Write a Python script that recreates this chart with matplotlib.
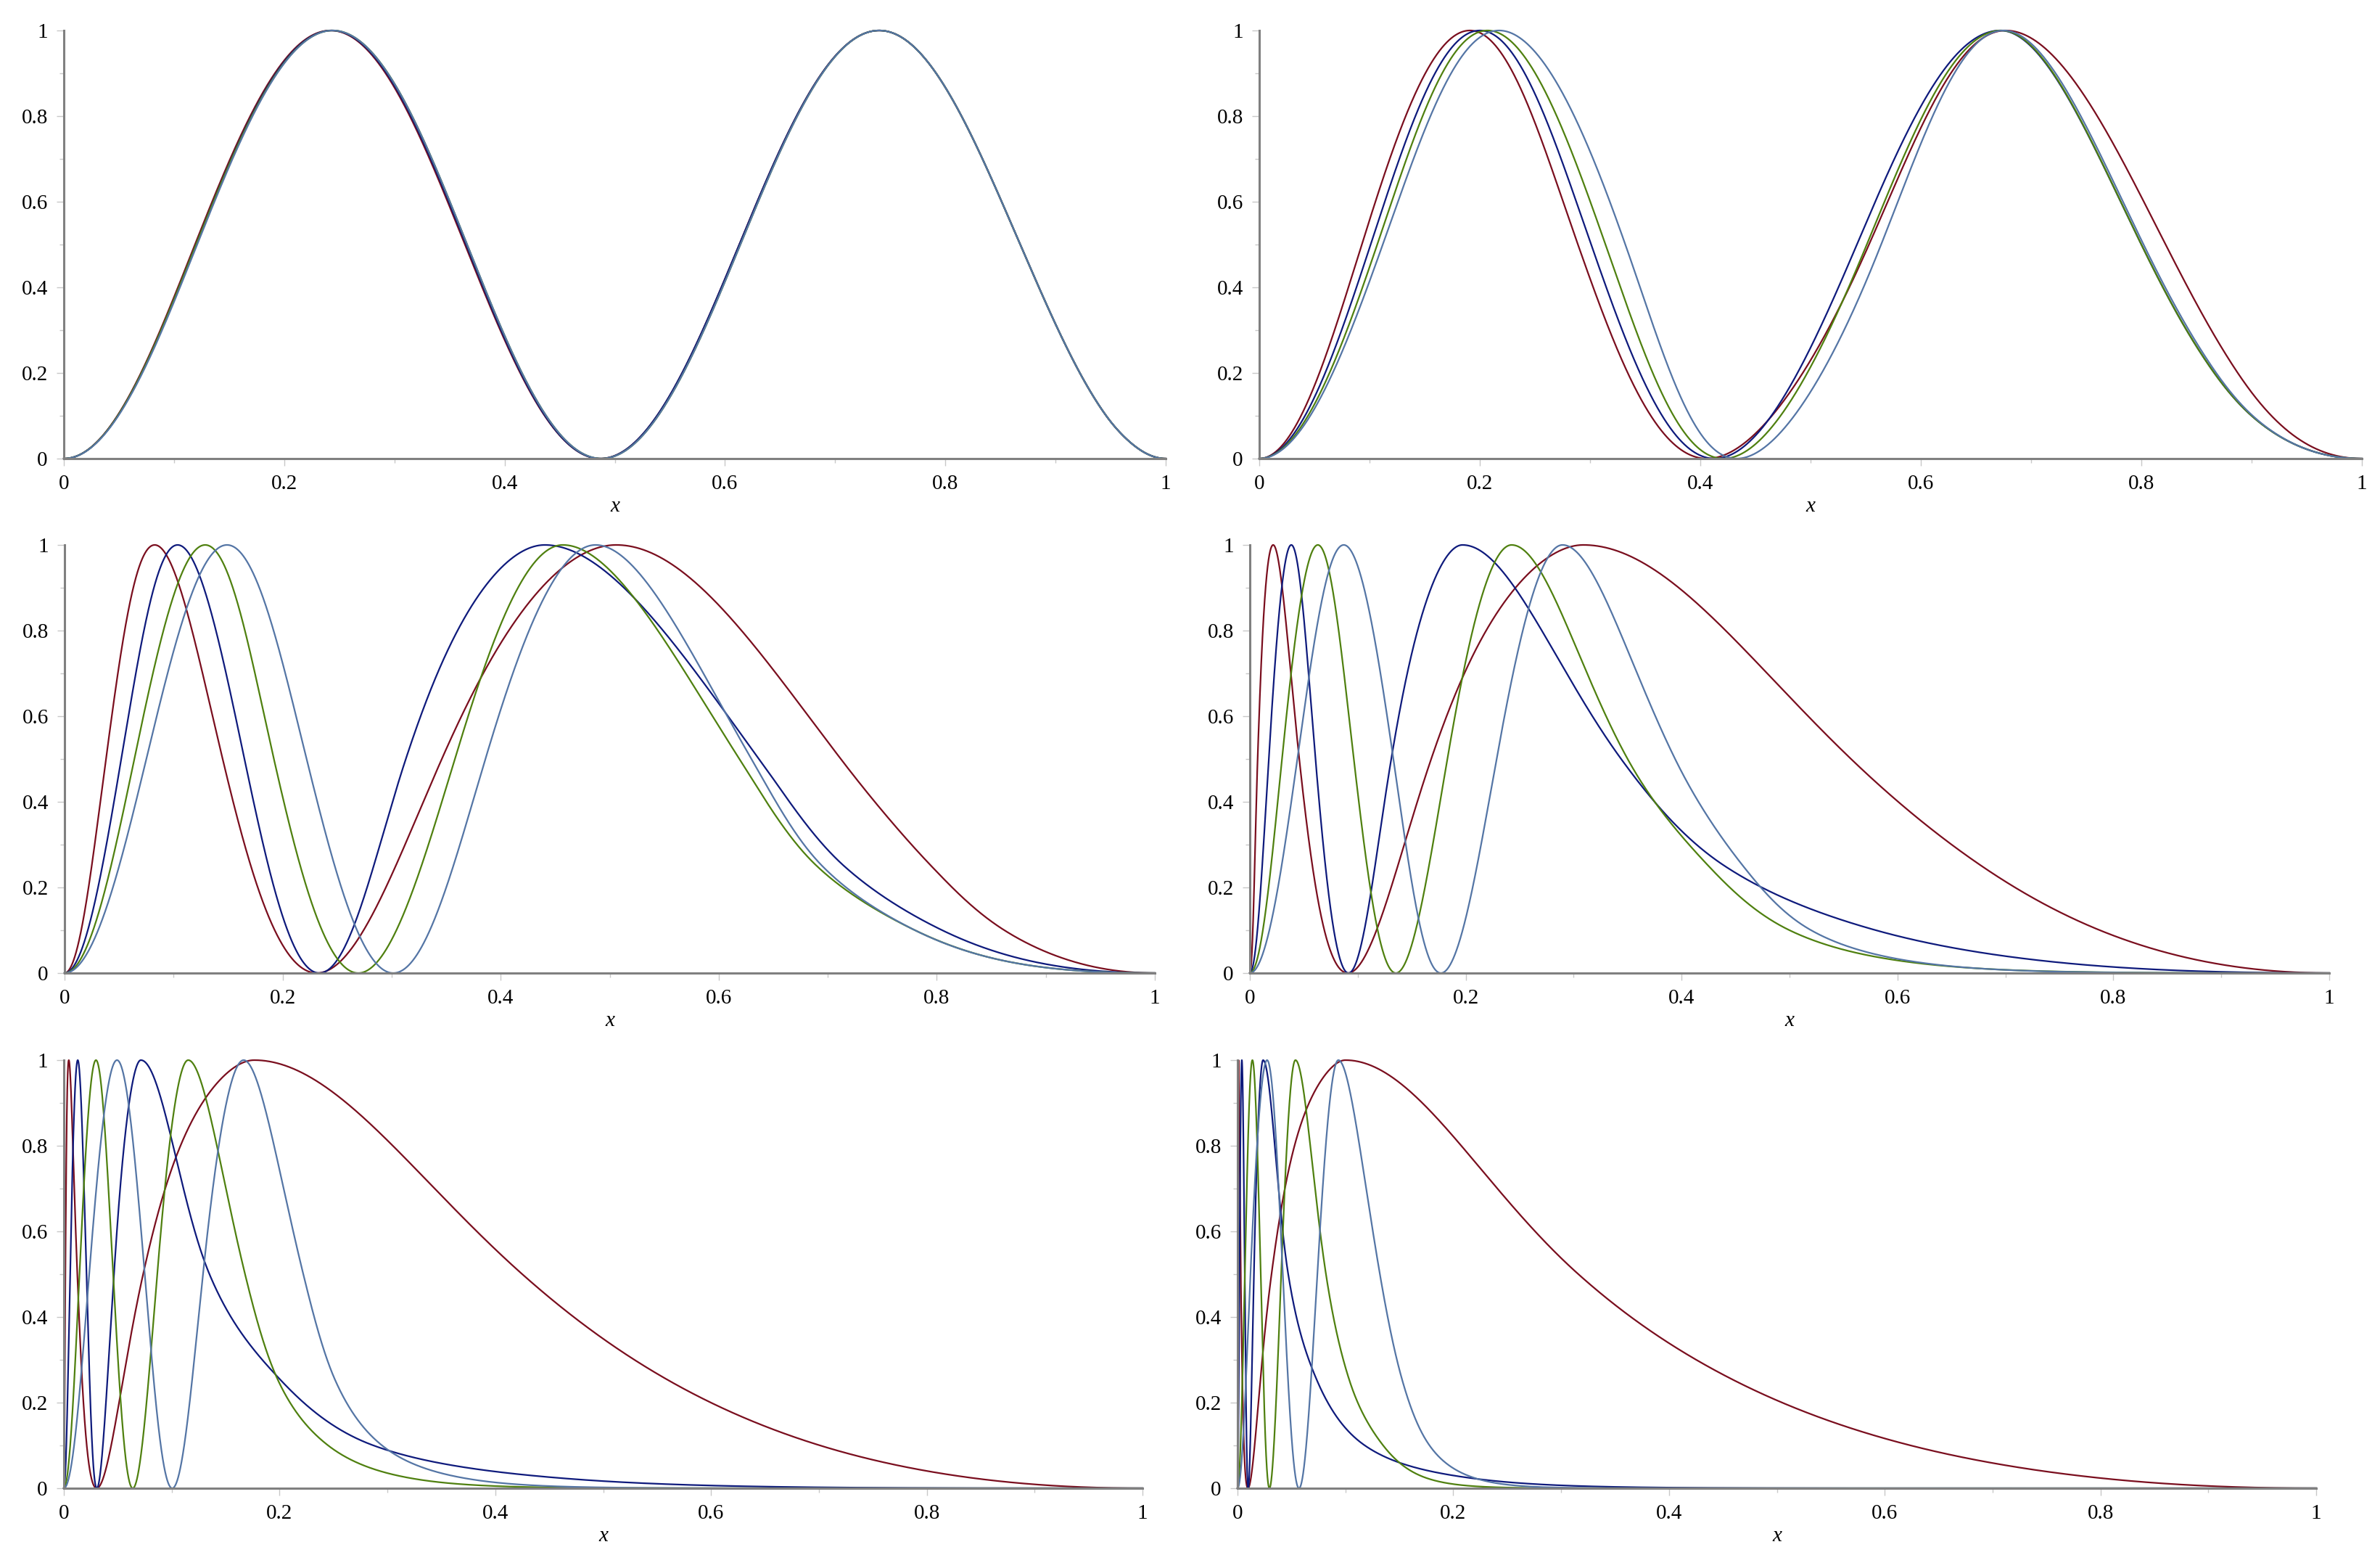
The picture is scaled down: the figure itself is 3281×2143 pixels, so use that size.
import numpy as np
import matplotlib.pyplot as plt

# x positions read off the picture where each curve passes, in order:
# 0, rise 0.5, peak, fall 0.5, zero, rise 0.5, peak, fall 0.5, 0.25, 0.1, 0.02, end
panel1_red = [0, 0.119, 0.242, 0.364, 0.487, 0.613, 0.740, 0.868, 0.912, 0.946, 0.977, 1]
panel1_navy = [0, 0.120, 0.243, 0.365, 0.487, 0.613, 0.740, 0.868, 0.912, 0.946, 0.977, 1]
panel1_green = [0, 0.120, 0.244, 0.366, 0.488, 0.614, 0.740, 0.868, 0.912, 0.946, 0.977, 1]
panel1_slate = [0, 0.121, 0.244, 0.366, 0.488, 0.614, 0.740, 0.868, 0.912, 0.946, 0.977, 1]

panel2_red = [0, 0.093, 0.191, 0.289, 0.406, 0.553, 0.677, 0.822, 0.875, 0.918, 0.961, 1]
panel2_navy = [0, 0.101, 0.200, 0.301, 0.413, 0.542, 0.672, 0.800, 0.853, 0.900, 0.952, 1]
panel2_green = [0, 0.107, 0.207, 0.314, 0.421, 0.551, 0.673, 0.800, 0.853, 0.900, 0.952, 1]
panel2_slate = [0, 0.112, 0.2175, 0.332, 0.433, 0.564, 0.675, 0.802, 0.855, 0.901, 0.952, 1]

panel3_red = [0, 0.038, 0.0827, 0.145, 0.2314, 0.346, 0.506, 0.712, 0.795, 0.862, 0.935, 1]
panel3_navy = [0, 0.052, 0.1037, 0.165, 0.2337, 0.313, 0.4405, 0.637, 0.715, 0.805, 0.902, 1]
panel3_green = [0, 0.064, 0.129, 0.192, 0.2694, 0.358, 0.457, 0.619, 0.690, 0.780, 0.880, 1]
panel3_slate = [0, 0.075, 0.149, 0.222, 0.3015, 0.386, 0.487, 0.630, 0.695, 0.780, 0.880, 1]

panel4_red = [0, 0.0072, 0.0216, 0.0458, 0.0907, 0.168, 0.309, 0.557, 0.678, 0.7875, 0.900, 1]
panel4_navy = [0, 0.0175, 0.0384, 0.0608, 0.0914, 0.131, 0.197, 0.344, 0.440, 0.580, 0.770, 1]
panel4_green = [0, 0.0298, 0.063, 0.0963, 0.1353, 0.183, 0.2425, 0.350, 0.425, 0.500, 0.630, 1]
panel4_slate = [0, 0.044, 0.087, 0.133, 0.177, 0.2286, 0.2897, 0.394, 0.457, 0.520, 0.635, 1]

panel5_red = [0, 0.0014, 0.0046, 0.0125, 0.0305, 0.0735, 0.1765, 0.425, 0.562, 0.701, 0.855, 1]
panel5_navy = [0, 0.0058, 0.0129, 0.021, 0.0306, 0.0465, 0.0714, 0.135, 0.202, 0.287, 0.480, 1]
panel5_green = [0, 0.0145, 0.0298, 0.0457, 0.0639, 0.0866, 0.1153, 0.168, 0.199, 0.245, 0.330, 1]
panel5_slate = [0, 0.0235, 0.0493, 0.075, 0.1005, 0.129, 0.1667, 0.222, 0.252, 0.295, 0.380, 1]

panel6_red = [0, 0.0002, 0.0009, 0.003, 0.0097, 0.0315, 0.100, 0.316, 0.462, 0.624, 0.815, 1]
panel6_navy = [0, 0.0018, 0.004, 0.0067, 0.0099, 0.0152, 0.0237, 0.047, 0.074, 0.118, 0.228, 1]
panel6_green = [0, 0.0068, 0.0138, 0.0215, 0.0296, 0.0405, 0.0537, 0.082, 0.104, 0.135, 0.180, 1]
panel6_slate = [0, 0.012, 0.0274, 0.042, 0.057, 0.074, 0.0935, 0.132, 0.153, 0.178, 0.225, 1]

tail_levels = [0.5, 0.25, 0.1, 0.02]
tick_values = [0, 0.2, 0.4, 0.6, 0.8, 1]
tick_labels = ['0', '0.2', '0.4', '0.6', '0.8', '1']

panels = [
    [panel1_red, panel1_navy, panel1_green, panel1_slate],
    [panel2_red, panel2_navy, panel2_green, panel2_slate],
    [panel3_red, panel3_navy, panel3_green, panel3_slate],
    [panel4_red, panel4_navy, panel4_green, panel4_slate],
    [panel5_red, panel5_navy, panel5_green, panel5_slate],
    [panel6_red, panel6_navy, panel6_green, panel6_slate],
]
colors = ['#7a0e1e', '#0e1a7c', '#4f800f', '#5475a5']

# axes boxes in pixels: left, right, top, bottom
boxes = [
    (88, 1607, 42, 632), (1736, 3256, 42, 632),
    (89, 1592, 751, 1341), (1723, 3211, 751, 1341),
    (88, 1575, 1461, 2051), (1706, 3193, 1461, 2051),
]

# y = sin^2(2*pi*phase); phase at the read crossings
wave_phases = [0, 0.125, 0.25, 0.375, 0.5, 0.625, 0.75]
# on the tail, r = 1 - phase at the peak and at each read level
tail_r = [0.25] + [np.arcsin(np.sqrt(v)) / (2 * np.pi) for v in tail_levels]


def pchip(xk, yk, xs):
    xk = np.asarray(xk, float)
    yk = np.asarray(yk, float)
    h = np.diff(xk)
    d = np.diff(yk) / h
    m = np.empty_like(yk)
    m[0], m[-1] = d[0], d[-1]
    for k in range(1, len(xk) - 1):
        if d[k - 1] * d[k] <= 0:
            m[k] = 0
        else:
            w1 = 2 * h[k] + h[k - 1]
            w2 = h[k] + 2 * h[k - 1]
            m[k] = (w1 + w2) / (w1 / d[k - 1] + w2 / d[k])
    i = np.clip(np.searchsorted(xk, xs) - 1, 0, len(h) - 1)
    t = (xs - xk[i]) / h[i]
    return ((1 + 2 * t) * (1 - t) ** 2 * yk[i] + t * (1 - t) ** 2 * h[i] * m[i]
            + t ** 2 * (3 - 2 * t) * yk[i + 1] + t ** 2 * (t - 1) * h[i] * m[i + 1])


def curve(knots, xs):
    wave_x = knots[:7]
    tail_x = np.array(knots[6:11])
    peak, last = tail_x[0], tail_x[-1]
    ys = np.zeros_like(xs)
    a = xs <= peak
    ys[a] = np.sin(2 * np.pi * pchip(wave_x, wave_phases, xs[a])) ** 2
    # tail: s = ln(r / (1 - x)) varies smoothly and keeps r -> 0 at x = 1
    tail_s = np.log(tail_r) - np.log(1 - tail_x)
    end_slope = (tail_s[-1] - tail_s[-2]) / (tail_x[-1] - tail_x[-2])
    b = ~a
    xb = xs[b]
    s = pchip(tail_x, tail_s, np.minimum(xb, last)) + np.maximum(xb - last, 0) * end_slope
    r = (1 - xb) * np.exp(s)
    ys[b] = np.sin(2 * np.pi * r) ** 2
    return ys


xs = np.unique(np.concatenate([np.linspace(0, 1, 20001), np.linspace(0, 0.05, 10001)]))

W, H = 3281, 2143
fig = plt.figure(figsize=(W / 100, H / 100), dpi=100)
plt.rcParams['font.family'] = 'Liberation Serif'

for curves, (l, r, t, b) in zip(panels, boxes):
    ax = fig.add_axes([l / W, 1 - b / H, (r - l) / W, (b - t) / H])
    for knots, c in zip(curves, colors):
        ax.plot(xs, curve(knots, xs), color=c, lw=1.6, clip_on=False)
    ax.set_xlim(0, 1)
    ax.set_ylim(0, 1)
    for s in ['top', 'right']:
        ax.spines[s].set_visible(False)
    for s in ['left', 'bottom']:
        ax.spines[s].set_color('#808080')
        ax.spines[s].set_linewidth(2.2)
    ax.set_xticks(tick_values)
    ax.set_xticklabels(tick_labels)
    ax.set_yticks(tick_values)
    ax.set_yticklabels(tick_labels)
    ax.set_xticks(np.arange(0.1, 1, 0.2), minor=True)
    ax.set_yticks(np.arange(0.1, 1, 0.2), minor=True)
    ax.tick_params(which='major', length=7, width=1, color='#c8c8c8',
                   labelsize=21, pad=9)
    ax.tick_params(which='minor', length=4, width=1, color='#c8c8c8')
    ax.text(0.5, -66 / (b - t), 'x', transform=ax.transAxes, ha='center',
            va='center', fontsize=21, fontstyle='italic')

fig.savefig('out.png', dpi=100)
